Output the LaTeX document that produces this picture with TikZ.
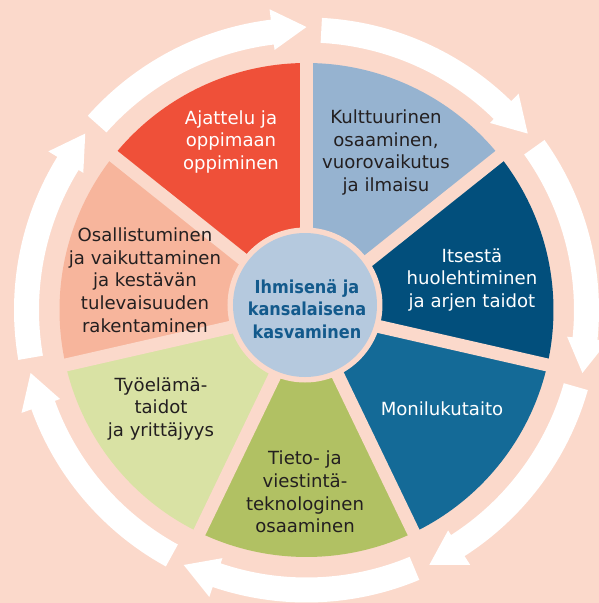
\documentclass[tikz,border=0pt]{standalone}
\usepackage{fontspec}
\setmainfont{DejaVu Sans}
\newfontfamily\cbf{DejaVu Sans Condensed}
\definecolor{bg}{HTML}{FBD9CB}
\definecolor{cred}{HTML}{EF5039}
\definecolor{clblue}{HTML}{96B3D0}
\definecolor{cdblue}{HTML}{024F7C}
\definecolor{cmblue}{HTML}{146A97}
\definecolor{cgreen}{HTML}{B1C163}
\definecolor{cpgreen}{HTML}{D9E2A4}
\definecolor{csalmon}{HTML}{F7B59C}
\definecolor{ccirc}{HTML}{B5C9DE}
\definecolor{ctext}{HTML}{231F20}
\definecolor{cctext}{HTML}{135A8C}
\begin{document}
\begin{tikzpicture}[x=1pt,y=1pt,
  lbl/.style={align=center, font=\fontsize{18.1}{22.7}\selectfont, inner sep=0pt},
  dark/.style={lbl, text=ctext},
  light/.style={lbl, text=white},
  centre/.style={align=center, font=\cbf\bfseries\fontsize{17.9}{22.6}\selectfont, text=cctext, inner sep=0pt},
  gap/.style={bg, line width=13pt},
  arrowband/.style={white}]
\fill[bg] (-306.5,-293) rectangle (292.5,310);
\useasboundingbox (-306.5,-293) rectangle (292.5,310);
\coordinate (O) at (0,0);
% sectors
\foreach \a/\c in {90/cred, 38.571/clblue, -12.857/cdblue, -64.286/cmblue, -115.714/cgreen, -167.143/cpgreen, 141.429/csalmon} {
  \fill[\c] (O) -- (\a:247) arc[start angle=\a, delta angle=51.4286, radius=247] -- cycle;
}
% gaps
\foreach \a in {90, 38.571, -12.857, -64.286, -115.714, -167.143, 141.429} {
  \coordinate (g) at (\a:256);
  \draw[gap] (O) -- (g);
}
% arrows
\foreach \t in {90, 38.571, -12.857, -64.286, -115.714, -167.143, 141.429} {
  \fill[arrowband] ({\t+48.4}:292.5) arc[start angle={\t+48.4}, end angle={\t+7}, radius=292.5]
    -- ({\t+7}:303) -- (\t:283) -- ({\t+7}:262) -- ({\t+7}:267.5)
    arc[start angle={\t+7}, end angle={\t+48.4}, radius=267.5] -- cycle;
}
% centre circle
\coordinate (C) at (-1.5,5);
\fill[bg] (C) circle (77.5);
\fill[ccirc] (C) circle (72);
% labels
\node[light] (ajattelu) at (-75.5,168) {Ajattelu ja\\oppimaan\\oppiminen};
\node[dark] (kulttuuri) at (79.5,157.5) {Kulttuurinen\\osaaminen,\\vuorovaikutus\\ja ilmaisu};
\node[light] (itsesta) at (165.5,30) {Itsestä\\huolehtiminen\\ja arjen taidot};
\node[light] (moni) at (135.5,-99) {Monilukutaito};
\node[dark] (tieto) at (-1.5,-182) {Tieto- ja\\viestintä-\\teknologinen\\osaaminen};
\node[dark] (tyo) at (-145.5,-99) {Työelämä-\\taidot\\ja yrittäjyys};
\node[dark] (osall) at (-161.5,30) {Osallistuminen\\ja vaikuttaminen\\ja kestävän\\tulevaisuuden\\rakentaminen};
\node[centre] (ihminen) at (0.5,1) {Ihmisenä ja\\kansalaisena\\kasvaminen};
\end{tikzpicture}
\end{document}
